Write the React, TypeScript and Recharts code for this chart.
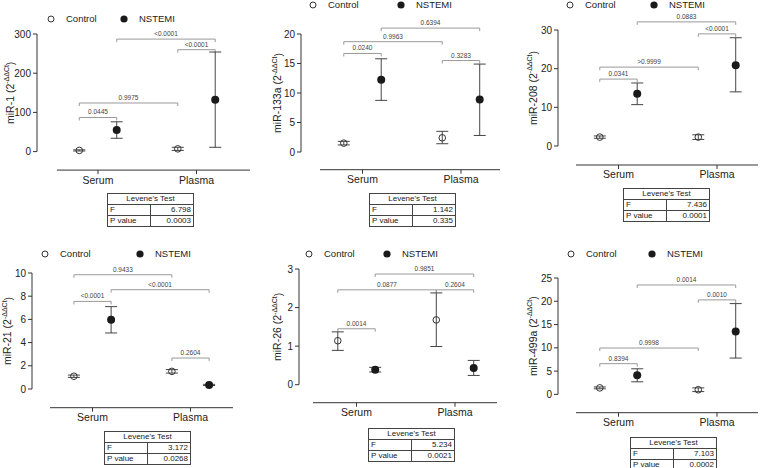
import React from "react";
import {
  ComposedChart,
  Scatter,
  ErrorBar,
  XAxis,
  YAxis,
  ReferenceLine,
} from "recharts";

// data, [Serum, Plasma] per panel
const groups = ["Serum", "Plasma"];
const seriesNames = ["Control", "NSTEMI"];
const mirNames = ["miR-1", "miR-133a", "miR-208", "miR-21", "miR-26", "miR-499a"];

const yTicks = [
  [0, 100, 200, 300],
  [0, 5, 10, 15, 20],
  [0, 10, 20, 30],
  [0, 2, 4, 6, 8, 10],
  [0, 1, 2, 3],
  [0, 5, 10, 15, 20, 25],
];

const controlMean = [[3, 7], [1.5, 2.4], [2.3, 2.3], [1.1, 1.52], [1.14, 1.68], [1.4, 1.0]];
const controlLow = [[1.5, 3], [1.2, 1.4], [2.0, 1.7], [1.0, 1.37], [0.89, 0.99], [1.2, 0.6]];
const controlHigh = [[4.5, 11], [1.8, 3.5], [2.6, 2.9], [1.2, 1.67], [1.37, 2.38], [1.6, 1.4]];

const nstemiMean = [[55, 132], [12.25, 8.9], [13.5, 20.9], [5.97, 0.35], [0.39, 0.43], [4.1, 13.5]];
const nstemiLow = [[34, 11], [8.75, 2.8], [10.7, 14], [4.83, 0.3], [0.33, 0.24], [2.7, 7.8]];
const nstemiHigh = [[76, 254], [15.8, 14.9], [16.3, 28], [7.1, 0.4], [0.45, 0.63], [5.5, 19.5]];

// point index: 0 Control Serum, 1 NSTEMI Serum, 2 Control Plasma, 3 NSTEMI Plasma
const bracketPairs = [
  [[1, 3], [2, 3], [0, 2], [0, 1]],
  [[1, 3], [0, 2], [0, 1], [2, 3]],
  [[1, 3], [2, 3], [0, 2], [0, 1]],
  [[0, 2], [1, 3], [0, 1], [2, 3]],
  [[1, 3], [0, 2], [2, 3], [0, 1]],
  [[1, 3], [2, 3], [0, 2], [0, 1]],
];
const bracketLevels = [
  [287, 260, 124, 87],
  [21.0, 18.7, 16.7, 15.5],
  [32.1, 29, 20.4, 17.3],
  [9.85, 8.56, 7.55, 2.67],
  [2.87, 2.46, 2.46, 1.45],
  [23.5, 20.3, 9.96, 6.6],
];
const bracketLabels = [
  ["<0.0001", "<0.0001", "0.9975", "0.0445"],
  ["0.6394", "0.9963", "0.0240", "0.3283"],
  ["0.0883", "<0.0001", ">0.9999", "0.0341"],
  ["0.9433", "<0.0001", "<0.0001", "0.2604"],
  ["0.9851", "0.0877", "0.2604", "0.0014"],
  ["0.0014", "0.0010", "0.9998", "0.8394"],
];

const leveneF = ["6.798", "1.142", "7.436", "3.172", "5.234", "7.103"];
const leveneP = ["0.0003", "0.335", "0.0001", "0.0268", "0.0021", "0.0002"];

// page layout of each panel (pixels)
const layout = [
  { ax: 37, ya: 170, y0: 151.5, ppu: 0.392, cs: 98, sp: 98.5, xs: 57, xr: 250, labDx: 27, legY: 19, legA: 51, legB: 124, tx: 107, ty: 193 },
  { ax: 301, ya: 170, y0: 152.3, ppu: 5.9, cs: 362.5, sp: 98.5, xs: 320, xr: 500, labDx: 23, legY: 5, legA: 313, legB: 401, tx: 369, ty: 193 },
  { ax: 558, ya: 165, y0: 146, ppu: 3.867, cs: 618.5, sp: 98.5, xs: 576, xr: 758, labDx: 25, legY: 5, legA: 570, legB: 654, tx: 623, ty: 188 },
  { ax: 32, ya: 408, y0: 389.3, ppu: 11.6, cs: 92.5, sp: 98, xs: 50, xr: 233, labDx: 24, legY: 254, legA: 45, legB: 140, tx: 104, ty: 431 },
  { ax: 299, ya: 403, y0: 385, ppu: 38.57, cs: 356.5, sp: 98.5, xs: 313, xr: 497, labDx: 21, legY: 254, legA: 309, legB: 387, tx: 368, ty: 428 },
  { ax: 558, ya: 413, y0: 394.7, ppu: 4.656, cs: 618.5, sp: 98.5, xs: 576, xr: 758, labDx: 25, legY: 254, legA: 571, legB: 652, tx: 630, ty: 437 },
];

const FONT = "'Liberation Sans', Arial, sans-serif";
const INK = "#222";
const AXIS = "#333";
const OFF = 0.19;
const YW = 30;

const OpenDot = (p: any) => (
  <circle cx={p.cx} cy={p.cy} r={3.3} fill="none" stroke={AXIS} strokeWidth={1} />
);
const FilledDot = (p: any) => <circle cx={p.cx} cy={p.cy} r={4} fill="#1a1a1a" />;

const Bracket = (p: any) => {
  const { x1, y1, x2, y2, text } = p;
  return (
    <g>
      <path
        d={`M${x1},${y1 + 3}V${y1}H${x2}V${y2 + 3}`}
        stroke="#9a9a9a"
        strokeWidth={1}
        fill="none"
      />
      <text
        x={(x1 + x2) / 2}
        y={y1 - 3}
        textAnchor="middle"
        fontSize={6.5}
        fill="#444"
        fontFamily={FONT}
      >
        {text}
      </text>
    </g>
  );
};

const YLine = (p: any) => {
  const { x1, y1, y2, name, dx } = p;
  const cx = x1 - dx;
  const cy = (y1 + y2) / 2;
  return (
    <g>
      <line x1={x1} y1={y1} x2={x1} y2={y2} stroke={AXIS} strokeWidth={1} />
      <text
        x={cx}
        y={cy}
        transform={`rotate(-90 ${cx} ${cy})`}
        textAnchor="middle"
        dominantBaseline="central"
        fontSize={10.5}
        fill={INK}
        fontFamily={FONT}
      >
        {name} (2
        <tspan fontSize={7} dy={-4}>-ΔΔCt</tspan>
        <tspan dy={4}>)</tspan>
      </text>
    </g>
  );
};

function Panel({ i }: { i: number }) {
  const L = layout[i];
  const ticks = yTicks[i];
  const topTick = ticks[ticks.length - 1];
  const plotTop = L.y0 - topTick * L.ppu - 22;
  const left = L.ax - YW;
  const width = L.xr - left;
  const height = L.ya - plotTop + 25;
  const yHi = (L.y0 - plotTop) / L.ppu;
  const yLo = -(L.ya - L.y0) / L.ppu;
  const xLo = 1 - (L.cs - L.ax) / L.sp;
  const xHi = 1 + (L.xr - L.cs) / L.sp;
  const xStart = 1 - (L.cs - L.xs) / L.sp;

  const control = groups.map((_, g) => ({
    x: g + 1 - OFF,
    y: controlMean[i][g],
    err: [controlMean[i][g] - controlLow[i][g], controlHigh[i][g] - controlMean[i][g]],
  }));
  const nstemi = groups.map((_, g) => ({
    x: g + 1 + OFF,
    y: nstemiMean[i][g],
    err: [nstemiMean[i][g] - nstemiLow[i][g], nstemiHigh[i][g] - nstemiMean[i][g]],
  }));
  const pointX = [control[0].x, nstemi[0].x, control[1].x, nstemi[1].x];

  return (
    <div style={{ position: "absolute", left, top: plotTop }}>
      <ComposedChart
        width={width}
        height={height}
        margin={{ top: 0, right: 0, bottom: 0, left: 0 }}
      >
        <XAxis
          type="number"
          dataKey="x"
          domain={[xLo, xHi]}
          allowDataOverflow
          ticks={[1, 2]}
          interval={0}
          tickFormatter={(v: number) => groups[v - 1]}
          axisLine={false}
          tickLine={{ stroke: AXIS }}
          tickSize={4}
          height={25}
          tick={{ fontSize: 10.5, fill: INK, fontFamily: FONT }}
        />
        <YAxis
          type="number"
          dataKey="y"
          domain={[yLo, yHi]}
          allowDataOverflow
          ticks={ticks}
          interval={0}
          axisLine={false}
          tickLine={{ stroke: AXIS }}
          tickSize={4}
          width={YW}
          tick={{ fontSize: 10, fill: INK, fontFamily: FONT }}
        />
        <ReferenceLine
          segment={[{ x: xLo, y: 0 }, { x: xLo, y: topTick }]}
          ifOverflow="visible"
          shape={(p: any) => <YLine {...p} name={mirNames[i]} dx={L.labDx} />}
        />
        <ReferenceLine
          segment={[{ x: xStart, y: yLo }, { x: xHi, y: yLo }]}
          stroke={AXIS}
          strokeWidth={1}
          ifOverflow="visible"
        />
        {bracketPairs[i].map((pair, k) => (
          <ReferenceLine
            key={k}
            segment={[
              { x: pointX[pair[0]], y: bracketLevels[i][k] },
              { x: pointX[pair[1]], y: bracketLevels[i][k] },
            ]}
            ifOverflow="visible"
            shape={(p: any) => <Bracket {...p} text={bracketLabels[i][k]} />}
          />
        ))}
        <Scatter
          name={seriesNames[0]}
          data={control}
          dataKey="y"
          shape={OpenDot}
          isAnimationActive={false}
        >
          <ErrorBar dataKey="err" direction="y" width={6} stroke="#444" strokeWidth={1} />
        </Scatter>
        <Scatter
          name={seriesNames[1]}
          data={nstemi}
          dataKey="y"
          shape={FilledDot}
          isAnimationActive={false}
        >
          <ErrorBar dataKey="err" direction="y" width={6} stroke="#444" strokeWidth={1} />
        </Scatter>
      </ComposedChart>
    </div>
  );
}

function Legend({ i }: { i: number }) {
  const L = layout[i];
  const item = (x: number, filled: boolean, label: string) => (
    <div
      style={{
        position: "absolute",
        left: x - 5,
        top: L.legY - 6,
        height: 12,
        display: "flex",
        alignItems: "center",
        whiteSpace: "nowrap",
      }}
    >
      <svg width={10} height={10} style={{ marginRight: 10 }}>
        {filled ? (
          <circle cx={5} cy={5} r={3.6} fill="#1a1a1a" />
        ) : (
          <circle cx={5} cy={5} r={3} fill="none" stroke={AXIS} strokeWidth={1} />
        )}
      </svg>
      <span style={{ fontSize: 9.5, lineHeight: "12px", color: INK, fontFamily: FONT }}>
        {label}
      </span>
    </div>
  );
  return (
    <>
      {item(L.legA, false, seriesNames[0])}
      {item(L.legB, true, seriesNames[1])}
    </>
  );
}

function Levene({ i }: { i: number }) {
  const L = layout[i];
  const cell: React.CSSProperties = {
    border: "1px solid #444",
    padding: "0 2px",
    height: 10,
    lineHeight: "10px",
  };
  return (
    <table
      style={{
        position: "absolute",
        left: L.tx,
        top: L.ty,
        width: 87,
        borderCollapse: "collapse",
        fontSize: 8,
        fontFamily: FONT,
        color: INK,
      }}
    >
      <tbody>
        <tr>
          <td colSpan={2} style={{ ...cell, textAlign: "center" }}>
            Levene's Test
          </td>
        </tr>
        <tr>
          <td style={{ ...cell, width: "50%" }}>F</td>
          <td style={{ ...cell, textAlign: "right" }}>{leveneF[i]}</td>
        </tr>
        <tr>
          <td style={cell}>P value</td>
          <td style={{ ...cell, textAlign: "right" }}>{leveneP[i]}</td>
        </tr>
      </tbody>
    </table>
  );
}

export default function App() {
  return (
    <div
      style={{
        position: "absolute",
        left: 0,
        top: 0,
        width: 760,
        height: 468,
        background: "#fff",
        overflow: "hidden",
      }}
    >
      <style>{`.recharts-surface{overflow:visible}`}</style>
      {mirNames.map((_, i) => (
        <React.Fragment key={i}>
          <Panel i={i} />
          <Legend i={i} />
          <Levene i={i} />
        </React.Fragment>
      ))}
    </div>
  );
}
